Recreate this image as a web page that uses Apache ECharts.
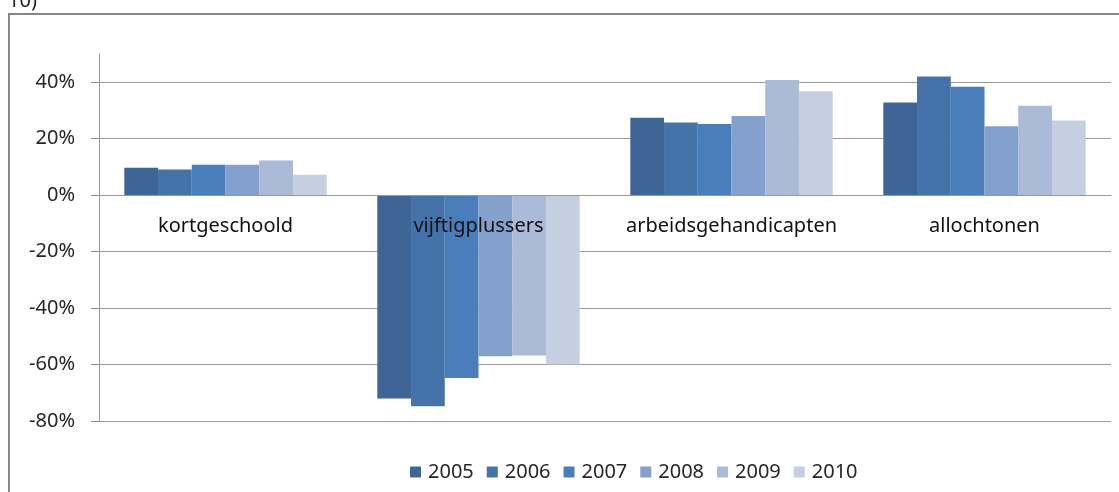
<!DOCTYPE html>
<html>
<head>
<meta charset="utf-8">
<script src="https://cdn.jsdelivr.net/npm/echarts@6/dist/echarts.min.js"></script>
<style>
  html, body { margin: 0; padding: 0; background: #fff; }
  #chart { width: 1119px; height: 492px; }
</style>
</head>
<body>
<div id="chart"></div>
<script>
const categories = ['kortgeschoold', 'vijftigplussers', 'arbeidsgehandicapten', 'allochtonen'];
const years = ['2005', '2006', '2007', '2008', '2009', '2010'];
const v2005 = [9.7, -72.0, 27.4, 32.8];
const v2006 = [9.1, -74.8, 25.7, 42.0];
const v2007 = [10.8, -64.8, 25.2, 38.4];
const v2008 = [10.8, -57.1, 28.0, 24.4];
const v2009 = [12.3, -56.8, 40.8, 31.7];
const v2010 = [7.2, -60.0, 36.8, 26.4];
const yTicks = [-80, -60, -40, -20, 0, 20, 40];
const colors = ['#3e6596', '#4572a8', '#4a7ebb', '#84a0cc', '#aabad7', '#c5cfe2'];

const seriesValues = [v2005, v2006, v2007, v2008, v2009, v2010];
const FONT = 'Noto Sans';
const GRID_COLOR = '#9a9a9a';

const chart = echarts.init(document.getElementById('chart'), null, { renderer: 'canvas' });

const option = {
  animation: false,
  backgroundColor: '#ffffff',
  color: colors,
  textStyle: { fontFamily: FONT },
  graphic: [
    {
      type: 'rect',
      shape: { x: 9, y: 14, width: 1300, height: 700 },
      style: { fill: 'none', stroke: '#878787', lineWidth: 2 },
      silent: true
    },
    {
      type: 'text',
      x: 8, y: 1,
      style: { text: '10)', font: '20px "Noto Sans"', fill: '#222', verticalAlign: 'middle' },
      silent: true
    }
  ],
  grid: { left: 99, right: 8, top: 54, bottom: 71, containLabel: false },
  legend: {
    data: years,
    left: 410,
    top: 462,
    padding: 0,
    itemWidth: 11,
    itemHeight: 11,
    itemGap: 13,
    icon: 'rect',
    textStyle: { fontFamily: FONT, fontSize: 20, color: '#262626', padding: [0, 0, 0, 2] }
  },
  xAxis: {
    type: 'category',
    data: categories,
    z: 10,
    offset: -225.5,
    axisLine: { show: true, onZero: false, lineStyle: { color: GRID_COLOR, width: 1 } },
    axisTick: { show: false },
    axisLabel: { fontFamily: FONT, fontSize: 20, color: '#111', margin: 21, interval: 0 },
    splitLine: { show: false }
  },
  yAxis: {
    type: 'value',
    min: -80,
    max: 50,
    interval: 20,
    axisLine: { show: true, lineStyle: { color: GRID_COLOR, width: 1 } },
    axisTick: { show: true, inside: false, length: 8, lineStyle: { color: '#8a8a8a', width: 1 }, customValues: yTicks },
    axisLabel: {
      fontFamily: FONT, fontSize: 20, color: '#262626', margin: 24,
      customValues: yTicks,
      formatter: function (v) { return v + '%'; }
    },
    splitLine: {
      show: true,
      lineStyle: {
        color: [GRID_COLOR, GRID_COLOR, GRID_COLOR, GRID_COLOR, GRID_COLOR, GRID_COLOR, GRID_COLOR, 'rgba(0,0,0,0)'],
        width: 1
      }
    }
  },
  series: years.map(function (y, i) {
    return {
      name: y,
      type: 'bar',
      data: seriesValues[i],
      barGap: '0%',
      barCategoryGap: '20%',
      itemStyle: { color: colors[i] }
    };
  })
};

chart.setOption(option);
</script>
</body>
</html>
